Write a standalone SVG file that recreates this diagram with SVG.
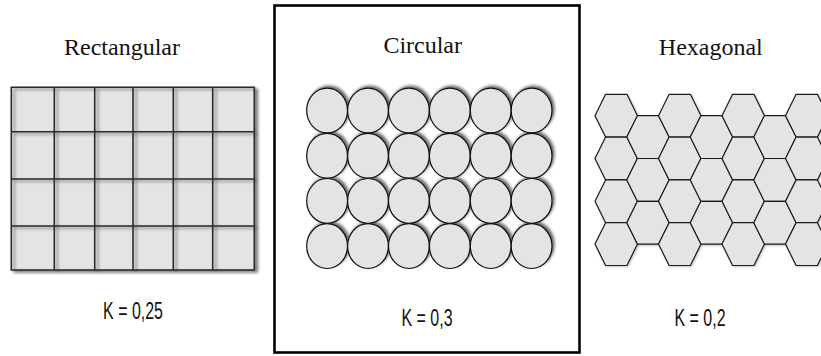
<svg xmlns="http://www.w3.org/2000/svg" xmlns:xlink="http://www.w3.org/1999/xlink" width="821" height="356" viewBox="0 0 821 356">
<style>
.title{font-family:"Liberation Serif","DejaVu Serif",serif;font-size:24px;fill:#111;text-anchor:middle}
.k{font-family:"Liberation Sans","DejaVu Sans",sans-serif;font-size:23.5px;fill:#111;text-anchor:middle}
.cell{fill:#e4e4e4;stroke:none}
.grid{fill:none;stroke:#2a2a2a;stroke-width:1.6}
.circ{fill:#e4e4e4;stroke:#111;stroke-width:1.2}
.hex{fill:#e4e4e4;stroke:#1a1a1a;stroke-width:1.2;stroke-linejoin:round}
</style>
<defs>
<filter id="shRect" x="-10%" y="-10%" width="130%" height="130%">
<feGaussianBlur in="SourceAlpha" stdDeviation="1.6"/>
<feOffset dx="3" dy="2" result="b"/>
<feComponentTransfer><feFuncA type="linear" slope="0.45"/></feComponentTransfer>
<feMerge><feMergeNode/><feMergeNode in="SourceGraphic"/></feMerge>
</filter>
<filter id="shCirc" x="-20%" y="-20%" width="140%" height="140%">
<feGaussianBlur in="SourceAlpha" stdDeviation="1.6"/>
<feOffset dx="2" dy="-2"/>
<feComponentTransfer><feFuncA type="linear" slope="0.6"/></feComponentTransfer>
<feMerge><feMergeNode/><feMergeNode in="SourceGraphic"/></feMerge>
</filter>
<filter id="shHex" x="-20%" y="-20%" width="140%" height="140%">
<feGaussianBlur in="SourceAlpha" stdDeviation="0.8"/>
<feOffset dx="1" dy="1"/>
<feComponentTransfer><feFuncA type="linear" slope="0.25"/></feComponentTransfer>
<feMerge><feMergeNode/><feMergeNode in="SourceGraphic"/></feMerge>
</filter>
<polygon id="hx" class="hex" points="0,21.4 10.6,0 31.9,0 42.5,21.4 31.9,42.8 10.6,42.8"/>
</defs>

<g id="rectangular">
<text class="title" x="122" y="55">Rectangular</text>
<rect class="cell" x="11.3" y="87.3" width="243" height="182.7" filter="url(#shRect)"/>
<path class="grid" filter="url(#shRect)" d="M11.3 87.3H254.3V270H11.3Z M54.3 87.3V270 M94.7 87.3V270 M133 87.3V270 M173.3 87.3V270 M212.7 87.3V270 M11.3 131.7H254.3 M11.3 179H254.3 M11.3 226H254.3"/>
<text class="k" transform="translate(133 319.3) scale(0.68 1)">K = 0,25</text>
</g>

<g id="circular">
<rect x="274.5" y="5.5" width="305" height="347" fill="none" stroke="#000" stroke-width="2.6"/>
<text class="title" x="422.7" y="52.5">Circular</text>
<g filter="url(#shCirc)">
<ellipse class="circ" cx="327.1" cy="110.5" rx="20.4" ry="22.4"/>
<ellipse class="circ" cx="368" cy="110.5" rx="20.4" ry="22.4"/>
<ellipse class="circ" cx="408.9" cy="110.5" rx="20.4" ry="22.4"/>
<ellipse class="circ" cx="449.8" cy="110.5" rx="20.4" ry="22.4"/>
<ellipse class="circ" cx="490.7" cy="110.5" rx="20.4" ry="22.4"/>
<ellipse class="circ" cx="531.6" cy="110.5" rx="20.4" ry="22.4"/>
<ellipse class="circ" cx="327.1" cy="155.7" rx="20.4" ry="22.4"/>
<ellipse class="circ" cx="368" cy="155.7" rx="20.4" ry="22.4"/>
<ellipse class="circ" cx="408.9" cy="155.7" rx="20.4" ry="22.4"/>
<ellipse class="circ" cx="449.8" cy="155.7" rx="20.4" ry="22.4"/>
<ellipse class="circ" cx="490.7" cy="155.7" rx="20.4" ry="22.4"/>
<ellipse class="circ" cx="531.6" cy="155.7" rx="20.4" ry="22.4"/>
<ellipse class="circ" cx="327.1" cy="200.9" rx="20.4" ry="22.4"/>
<ellipse class="circ" cx="368" cy="200.9" rx="20.4" ry="22.4"/>
<ellipse class="circ" cx="408.9" cy="200.9" rx="20.4" ry="22.4"/>
<ellipse class="circ" cx="449.8" cy="200.9" rx="20.4" ry="22.4"/>
<ellipse class="circ" cx="490.7" cy="200.9" rx="20.4" ry="22.4"/>
<ellipse class="circ" cx="531.6" cy="200.9" rx="20.4" ry="22.4"/>
<ellipse class="circ" cx="327.1" cy="246.1" rx="20.4" ry="22.4"/>
<ellipse class="circ" cx="368" cy="246.1" rx="20.4" ry="22.4"/>
<ellipse class="circ" cx="408.9" cy="246.1" rx="20.4" ry="22.4"/>
<ellipse class="circ" cx="449.8" cy="246.1" rx="20.4" ry="22.4"/>
<ellipse class="circ" cx="490.7" cy="246.1" rx="20.4" ry="22.4"/>
<ellipse class="circ" cx="531.6" cy="246.1" rx="20.4" ry="22.4"/>
</g>
<text class="k" transform="translate(427 325.7) scale(0.68 1)">K = 0,3</text>
</g>

<g id="hexagonal">
<text class="title" x="710.8" y="55">Hexagonal</text>
<g filter="url(#shHex)">
<use xlink:href="#hx" href="#hx" x="595" y="94.3"/>
<use xlink:href="#hx" href="#hx" x="595" y="137.1"/>
<use xlink:href="#hx" href="#hx" x="595" y="179.9"/>
<use xlink:href="#hx" href="#hx" x="595" y="222.7"/>
<use xlink:href="#hx" href="#hx" x="626.75" y="115.7"/>
<use xlink:href="#hx" href="#hx" x="626.75" y="158.5"/>
<use xlink:href="#hx" href="#hx" x="626.75" y="201.3"/>
<use xlink:href="#hx" href="#hx" x="658.5" y="94.3"/>
<use xlink:href="#hx" href="#hx" x="658.5" y="137.1"/>
<use xlink:href="#hx" href="#hx" x="658.5" y="179.9"/>
<use xlink:href="#hx" href="#hx" x="658.5" y="222.7"/>
<use xlink:href="#hx" href="#hx" x="690.25" y="115.7"/>
<use xlink:href="#hx" href="#hx" x="690.25" y="158.5"/>
<use xlink:href="#hx" href="#hx" x="690.25" y="201.3"/>
<use xlink:href="#hx" href="#hx" x="722" y="94.3"/>
<use xlink:href="#hx" href="#hx" x="722" y="137.1"/>
<use xlink:href="#hx" href="#hx" x="722" y="179.9"/>
<use xlink:href="#hx" href="#hx" x="722" y="222.7"/>
<use xlink:href="#hx" href="#hx" x="753.75" y="115.7"/>
<use xlink:href="#hx" href="#hx" x="753.75" y="158.5"/>
<use xlink:href="#hx" href="#hx" x="753.75" y="201.3"/>
<use xlink:href="#hx" href="#hx" x="785.5" y="94.3"/>
<use xlink:href="#hx" href="#hx" x="785.5" y="137.1"/>
<use xlink:href="#hx" href="#hx" x="785.5" y="179.9"/>
<use xlink:href="#hx" href="#hx" x="785.5" y="222.7"/>
</g>
<text class="k" transform="translate(700 325.7) scale(0.68 1)">K = 0,2</text>
</g>
</svg>
